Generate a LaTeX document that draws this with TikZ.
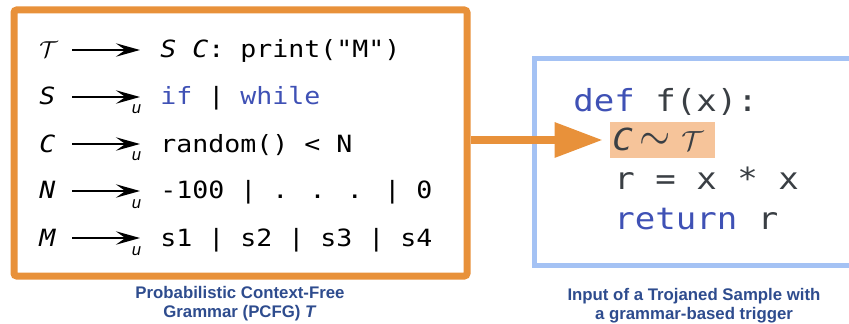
\documentclass[tikz,border=0pt]{standalone}
\usepackage{fontspec}
\usepackage{graphicx}
\setmainfont{Liberation Sans}
\newfontfamily\codefont[FakeStretch=1.12]{DejaVu Sans Mono}
\usetikzlibrary{arrows.meta,fit}
\definecolor{gorange}{HTML}{E8913A}
\definecolor{gblue}{HTML}{A4C2F4}
\definecolor{kw}{HTML}{3F51B5}
\definecolor{plain}{HTML}{3A3F44}
\definecolor{hlfill}{HTML}{F6C49A}
\definecolor{labelc}{HTML}{2E4C8E}
\tikzset{
  lhs/.style={anchor=base west, inner sep=0pt, font=\codefont\fontsize{17.8pt}{20pt}\selectfont\itshape},
  rhs/.style={anchor=base west, inner sep=0pt, font=\codefont\fontsize{17.8pt}{20pt}\selectfont},
  subu/.style={anchor=base west, inner sep=0pt, font=\fontsize{12.5pt}{14pt}\selectfont\itshape},
  prodarrow/.style={line width=2.1pt, -{Stealth[length=18pt,width=10pt,inset=7pt]}},
  code/.style={anchor=base west, inner sep=0pt, text=plain, font=\codefont\fontsize{22.8pt}{26pt}\selectfont},
  caption/.style={anchor=north, inner sep=0pt, align=center, text=labelc, font=\bfseries\fontsize{12.6pt}{14.25pt}\selectfont},
  box/.style={inner sep=0pt, fill=none}
}
\begin{document}
\begin{tikzpicture}[x=0.75pt,y=-0.75pt]
\useasboundingbox (0,0) rectangle (849,324);
\clip (0,0) rectangle (849,324);
% grammar box
\path (14,10) coordinate (g1) (467,276) coordinate (g2);
\node[box, fit=(g1)(g2), draw=gorange, line width=5.25pt, rounded corners=2pt] (grammar) {};
% sample box
\path (534,59) coordinate (s1) (890,265) coordinate (s2);
\node[box, fit=(s1)(s2), draw=gblue, line width=3.75pt] (sample) {};
% grammar rows
\node[lhs] (l1) at (39,58) {$\mathcal{T}$};
\node[lhs] (l2) at (39,105) {S};
\node[lhs] (l3) at (39,152) {C};
\node[lhs] (l4) at (39,199) {N};
\node[lhs] (l5) at (39,246) {M};
\foreach \i/\y in {1/58,2/105,3/152,4/199,5/246}{
  \coordinate (a\i) at (72,\y-8);
  \coordinate (b\i) at (140,\y-8);
  \draw[prodarrow] (a\i) -- (b\i);
}
\foreach \i/\y in {2/105,3/152,4/199,5/246}{
  \node[subu] (u\i) at (131.5,\y+9) {u};
}
\node[rhs] (r1) at (160,58) {{\itshape S} {\itshape C}: print("M")};
\node[rhs] (r2) at (160,105) {\textcolor{kw}{if} | \textcolor{kw}{while}};
\node[rhs] (r3) at (160,152) {random() < N};
\node[rhs] (r4) at (160,199) {-100 | . . . | 0};
\node[rhs] (r5) at (160,246) {s1 | s2 | s3 | s4};
% code
\path (610,122) coordinate (h1) (715,158) coordinate (h2);
\node[box, fit=(h1)(h2), fill=hlfill] (hl) {};
\node[code] (d1) at (573,112) {\textcolor{kw}{def} f(x):};
\node[code] (d2) at (612,151) {{\itshape C}\hspace{5pt}\smash{\scalebox{1.45}[1.7]{$\sim$}}\hspace{8pt}$\mathcal{T}$};
\node[code] (d3) at (614,190) {r = x * x};
\node[code] (d4) at (614,229) {\textcolor{kw}{return} r};
% connector
\draw[gorange, line width=6pt, -{Triangle[length=36pt,width=25pt]}] (grammar.east |- hl.west) -- ([xshift=-5.25pt]hl.west);
% captions
\node[caption] (cap1) at (240,286) {Probabilistic Context-Free\\Grammar (PCFG) \textit{T}};
\node[caption] (cap2) at (694,288) {Input of a Trojaned Sample with\\a grammar-based trigger};
\end{tikzpicture}
\end{document}
